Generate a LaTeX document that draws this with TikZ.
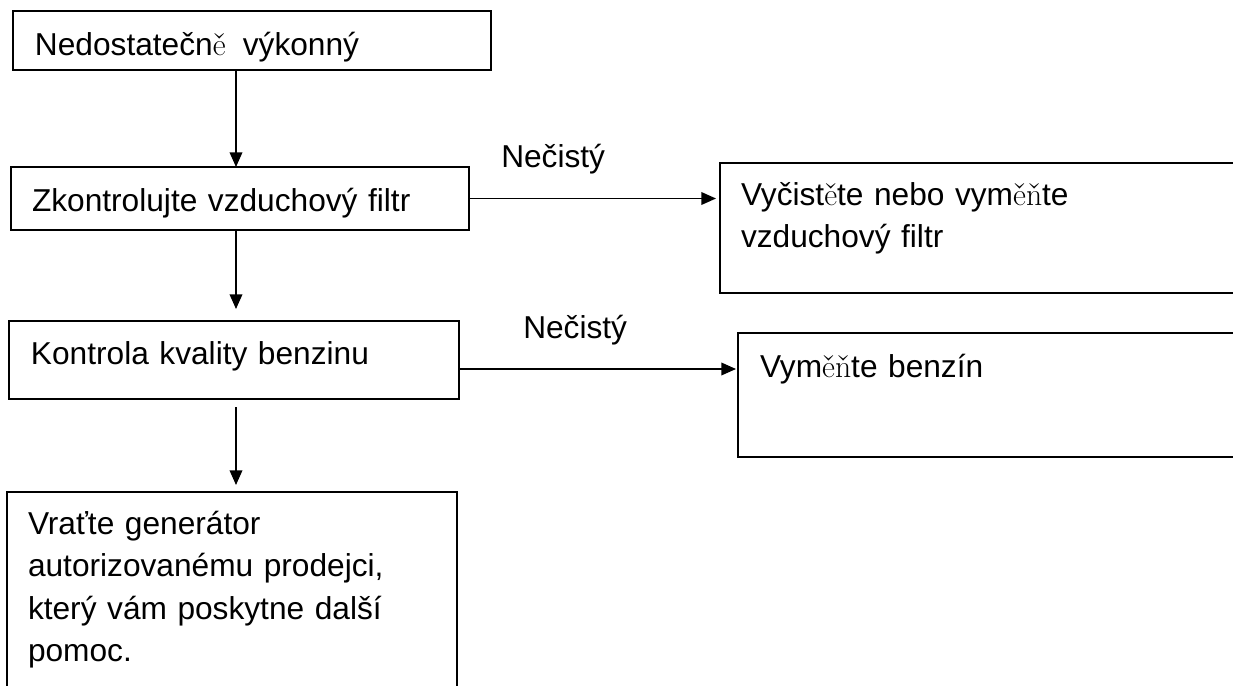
\documentclass[tikz,border=0pt]{standalone}
\usepackage{fontspec}
\setsansfont{Liberation Sans}
\usetikzlibrary{arrows.meta}
\newcommand{\jinefont}[1]{{\rmfamily #1}}

\begin{document}
\begin{tikzpicture}[x=0.75pt,y=-0.75pt,
  blok/.style={draw,line width=1.3pt,rectangle,anchor=north west,inner ysep=0pt,outer sep=0pt,
    align=left,font=\sffamily\fontsize{23.75}{31.9}\selectfont},
  popis/.style={anchor=base west,inner sep=0pt,font=\sffamily\fontsize{23.75}{31.9}\selectfont},
  spoj/.style={line width=1.1pt,-{Triangle[length=11pt,width=9.5pt]}}]
  \useasboundingbox (0,0) rectangle (1233,686);
  \clip (0,0) rectangle (1233,686);
  % bloky
  \node[blok,inner xsep=16.5pt,text width=325.5pt,text height=33pt,text depth=11.25pt] (nedost) at (13,11)
    {Nedostatečn\jinefont{ě}\hspace{5pt} výkonný};
  \node[blok,inner xsep=15.75pt,text width=312pt,text height=33pt,text depth=14.25pt] (vzduch) at (11,167)
    {Zkontrolujte vzduchový filtr};
  \node[blok,inner xsep=15.75pt,text width=366pt,text height=31.5pt,text depth=66pt] (vycist) at (720,163)
    {Vyčist\jinefont{ě}te nebo vym\jinefont{ěň}te\\vzduchový filtr};
  \node[blok,inner xsep=16.5pt,text width=304.5pt,text height=32.25pt,text depth=26.25pt] (benzin) at (9,321)
    {Kontrola kvality benzinu};
  \node[blok,inner xsep=16.5pt,text width=351pt,text height=33pt,text depth=60pt] (vymen) at (738,333)
    {Vym\jinefont{ěň}te benzín};
  \node[blok,inner xsep=15.75pt,text width=306pt,text height=31.5pt,text depth=124.5pt] (prodejce) at (7,492)
    {Vraťte generátor\\autorizovanému prodejci,\\který vám poskytne další\\pomoc.};
  % popisy
  \node[popis] (necisty1) at (501,167) {Nečistý};
  \node[popis] (necisty2) at (523,338) {Nečistý};
  % spoje
  \coordinate (sloupec) at (236,0);
  \draw[spoj] (nedost.south -| sloupec) -- (vzduch.north -| sloupec);
  \draw[spoj,shorten >=9pt] (vzduch.south -| sloupec) -- (benzin.north -| sloupec);
  \draw[spoj,shorten <=6pt,shorten >=5.25pt] (benzin.south -| sloupec) -- (prodejce.north -| sloupec);
  \draw[spoj,shorten >=3pt] (vzduch.east) -- (vzduch.east -| vycist.west);
  \draw[spoj,shorten >=1.5pt] ([yshift=-6.75pt]benzin.east) -- ([yshift=-6.75pt]benzin.east -| vymen.west);
\end{tikzpicture}
\end{document}
